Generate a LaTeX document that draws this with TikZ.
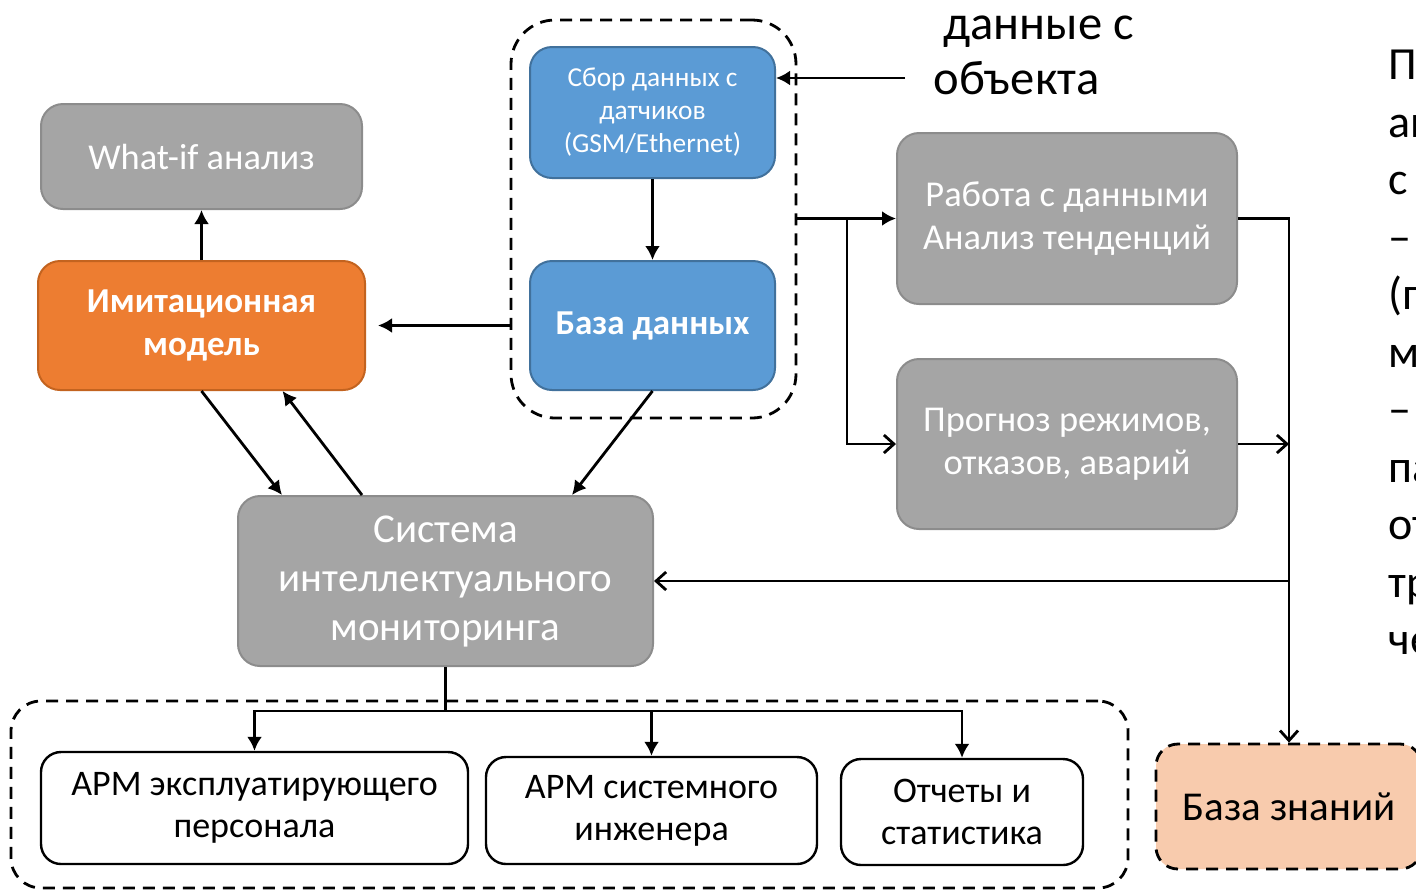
\documentclass[tikz,border=0pt]{standalone}
\usepackage{fontspec}
\setmainfont{Carlito}
\usetikzlibrary{arrows.meta, positioning}
\definecolor{boxgray}{HTML}{A5A5A5}
\definecolor{boxgrayline}{HTML}{8C8C8C}
\definecolor{simorange}{HTML}{ED7D31}
\definecolor{simorangeline}{HTML}{C3631F}
\definecolor{dbblue}{HTML}{5B9BD5}
\definecolor{dbblueline}{HTML}{41719C}
\definecolor{kbpeach}{HTML}{F8CBAD}
\tikzset{
  %% ---- boxes ----
  greybox/.style  = {rectangle, rounded corners=11pt,
                     draw=boxgrayline, line width=1pt,
                     fill=boxgray, text=white, align=center, inner sep=0pt,
                     font=\fontsize{18.2}{21.5}\selectfont},
  simbox/.style   = {rectangle, rounded corners=11pt,
                     draw=simorangeline, line width=1pt,
                     fill=simorange, text=white, align=center, inner sep=0pt,
                     font=\fontsize{17.5}{21.5}\selectfont\bfseries},
  bluebox/.style  = {rectangle, rounded corners=11pt,
                     draw=dbblueline, line width=1pt,
                     fill=dbblue, text=white, align=center, inner sep=0pt,
                     font=\fontsize{13.7}{16.5}\selectfont},
  armbox/.style   = {rectangle, rounded corners=10pt,
                     draw=black, line width=1.2pt,
                     fill=white, align=center, inner sep=0pt,
                     font=\fontsize{18}{21}\selectfont},
  kbbox/.style    = {rectangle, rounded corners=11pt,
                     draw=black, line width=1.4pt, dash pattern=on 6pt off 4pt,
                     fill=kbpeach, align=center, inner sep=0pt,
                     font=\fontsize{20.5}{24}\selectfont},
  group/.style    = {rectangle, draw=black, line width=1.4pt,
                     dash pattern=on 6pt off 4pt, inner sep=0pt},
  %% ---- arrows ----
  arr/.style      = {-{Latex[length=7pt,width=7.5pt]}, line width=1.4pt},
  openarr/.style  = {-{Straight Barb[length=5pt,width=9pt]}, line width=1.4pt},
}
\begin{document}
\begin{tikzpicture}[x=0.5pt, y=-0.5pt]
\useasboundingbox (0,0) rectangle (1416,891);
% dashed groups
\node[group, rounded corners=22pt, minimum width=142.5pt, minimum height=199pt] (grpdb) at (653.5,219) {};
\node[group, rounded corners=15pt, minimum width=558.5pt, minimum height=93.5pt] (grparm) at (569.5,794.5) {};
% boxes
\node[greybox, minimum width=160.5pt, minimum height=52.5pt] (whatif) at (201.5,156.5) {What-if анализ};
\node[simbox, minimum width=163.5pt, minimum height=64.5pt] (sim) at (201.5,325.5) {Имитационная\\модель};
\node[bluebox, minimum width=122.5pt, minimum height=65.5pt] (sensors) at (652.5,112.5) {Сбор данных с\\датчиков\\(GSM/Ethernet)};
\node[bluebox, minimum width=122.5pt, minimum height=64.5pt, font=\fontsize{17.5}{20}\selectfont\bfseries] (db) at (652.5,325.5) {База данных};
\node[greybox, minimum width=170pt, minimum height=85.5pt] (trend) at (1067,218.5) {Работа с данными\\Анализ тенденций};
\node[greybox, minimum width=170pt, minimum height=85pt] (forecast) at (1067,444) {Прогноз режимов,\\отказов, аварий};
\node[greybox, minimum width=207.5pt, minimum height=85pt, font=\fontsize{20.5}{24.5}\selectfont] (monitor) at (445.5,581) {Система\\интеллектуального\\мониторинга};
\node[armbox, minimum width=213.5pt, minimum height=56pt] (armop) at (254.5,808) {АРМ эксплуатирующего\\персонала};
\node[armbox, minimum width=165.5pt, minimum height=53.5pt] (armeng) at (651.5,810.5) {АРМ системного\\инженера};
\node[armbox, minimum width=121pt, minimum height=53pt] (reports) at (962,812) {Отчеты и\\статистика};
\node[kbbox, minimum width=133pt, minimum height=62.5pt] (kb) at (1289,806.5) {База знаний};
% texts
\node[anchor=north west, align=left, inner sep=0pt, font=\fontsize{24.3}{27.5}\selectfont] (objlbl) at (933,15) {\hspace*{5pt}данные с\\объекта};
\begin{scope}
  \clip (1380,0) rectangle (1416,891);
  \node[anchor=north west, align=left, inner sep=0pt, font=\fontsize{23}{28.75}\selectfont] (note) at (1388,50) {П\\ан\\с\\–\\(п\\м\\–\\па\\от\\тр\\че};
\end{scope}
% connectors
\coordinate (objsrc) at (905,78);
\coordinate (split) at (847,218);
\coordinate (fork) at (445.5,711);
\draw[arr] (objsrc) -- (objsrc -| sensors.east);
\draw[arr] (sensors) -- (db);
\draw[arr, shorten >=6pt] (grpdb.west |- sim.east) -- (sim.east);
\draw[arr] (sim.north) -- (whatif.south);
\draw[arr] (sim.south) -- ([xshift=22.5pt]monitor.north west);
\draw[arr] ([xshift=62.5pt]monitor.north west) -- ([xshift=40.5pt]sim.south);
\draw[arr] (db.south) -- ([xshift=-41pt]monitor.north east);
\draw[arr] (grpdb.east |- trend.west) -- (trend.west);
\draw[openarr] (split) |- (forecast.west);
\draw[openarr] (trend.east) -| (kb.north);
\draw[openarr] (forecast.east) -- (forecast.east -| kb.north);
\draw[openarr] (monitor.east -| kb.north) -- (monitor.east);
\draw[line width=1.4pt] (monitor.south) -- (fork);
\draw[arr] (fork) -| (armop.north);
\draw[arr] (fork) -| (armeng.north);
\draw[arr] (fork) -| (reports.north);
\end{tikzpicture}
\end{document}
